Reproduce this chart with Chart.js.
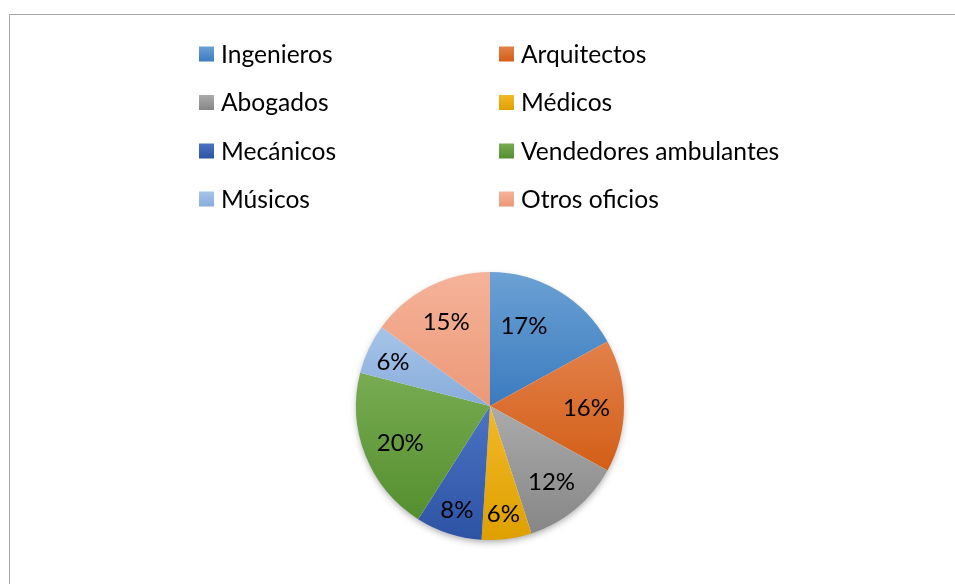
<!DOCTYPE html>
<html>
<head>
<meta charset="utf-8">
<script src="https://cdn.jsdelivr.net/npm/chart.js@4/dist/chart.umd.min.js"></script>
<style>
  html, body { margin: 0; padding: 0; background: #fff; overflow: hidden; }
  #frame {
    position: absolute; left: 9px; top: 14px; width: 1000px; height: 700px;
    border-left: 1px solid #a6a6a6; border-top: 1px solid #a6a6a6;
  }
  #wrap { position: absolute; left: 0; top: 0; width: 955px; height: 584px; }
</style>
</head>
<body>
<div id="frame"></div>
<div id="wrap"><canvas id="chart"></canvas></div>
<script>
// data
const labels = ["Ingenieros", "Arquitectos", "Abogados", "Médicos",
                "Mecánicos", "Vendedores ambulantes", "Músicos", "Otros oficios"];
const values = [17, 16, 12, 6, 8, 20, 6, 15];

// gradient colors, top -> bottom
const topColors = ["#6ba1d4", "#e2814b", "#ababab", "#f2b928",
                   "#4c72c2", "#78ab52", "#a5c4e8", "#f5b399"];
const bottomColors = ["#3b7bbf", "#d35e16", "#868686", "#dea000",
                      "#2d53a5", "#548f2f", "#88acdb", "#ec9877"];

const FONT = "Lato, 'Open Sans', sans-serif";

// vertical span of a slice, for the gradient
function sliceSpan(i, cx, cy, r) {
  const total = values.reduce((a, b) => a + b, 0);
  let cum = 0;
  for (let k = 0; k < i; k++) cum += values[k];
  const a0 = -Math.PI / 2 + 2 * Math.PI * cum / total;
  const a1 = a0 + 2 * Math.PI * values[i] / total;
  let ys = [cy, cy + r * Math.sin(a0), cy + r * Math.sin(a1)];
  [-Math.PI / 2, Math.PI / 2, 3 * Math.PI / 2].forEach(a => {
    if (a > a0 && a < a1) ys.push(cy + r * Math.sin(a));
  });
  return [Math.min(...ys), Math.max(...ys)];
}

function sliceFill(context) {
  const i = context.dataIndex;
  const chart = context.chart;
  const area = chart.chartArea;
  if (!area) return topColors[i];
  const cx = (area.left + area.right) / 2;
  const cy = (area.top + area.bottom) / 2;
  const r = Math.min(area.right - area.left, area.bottom - area.top) / 2;
  const span = sliceSpan(i, cx, cy, r);
  const g = chart.ctx.createLinearGradient(0, span[0], 0, span[1]);
  g.addColorStop(0, topColors[i]);
  g.addColorStop(1, bottomColors[i]);
  return g;
}

// soft shadow under the pie
const pieShadow = {
  id: 'pieShadow',
  beforeDatasetsDraw(chart) {
    const arc = chart.getDatasetMeta(0).data[0];
    if (!arc) return;
    const ctx = chart.ctx;
    ctx.save();
    ctx.shadowColor = "rgba(0,0,0,0.35)";
    ctx.shadowBlur = 7;
    ctx.shadowOffsetY = 3;
    ctx.fillStyle = "#fff";
    ctx.beginPath();
    ctx.arc(arc.x, arc.y, arc.outerRadius - 1, 0, Math.PI * 2);
    ctx.fill();
    ctx.restore();
  }
};

// percentage labels
const sliceLabels = {
  id: 'sliceLabels',
  afterDatasetsDraw(chart) {
    const ctx = chart.ctx;
    const total = values.reduce((a, b) => a + b, 0);
    ctx.save();
    ctx.font = "24px " + FONT;
    ctx.fillStyle = "#000";
    ctx.textAlign = "center";
    ctx.textBaseline = "middle";
    chart.getDatasetMeta(0).data.forEach((arc, i) => {
      let mid = (arc.startAngle + arc.endAngle) / 2;
      const share = values[i] / total;
      const frac = share < 0.1 ? 0.8 : 0.72;
      if (i === 0) mid -= 0.14; // first label sits a bit toward the top
      const x = arc.x + Math.cos(mid) * arc.outerRadius * (i === 0 ? 0.66 : frac);
      const y = arc.y + Math.sin(mid) * arc.outerRadius * (i === 0 ? 0.66 : frac);
      ctx.fillText(Math.round(share * 100) + "%", x, y + 2);
    });
    ctx.restore();
  }
};

// two-column legend
const gridLegend = {
  id: 'gridLegend',
  afterDraw(chart) {
    const ctx = chart.ctx;
    const colX = [199, 499];
    const rowY = [54, 102.5, 151, 199];
    const box = 15;
    ctx.save();
    ctx.font = "24.6px " + FONT;
    ctx.textBaseline = "middle";
    ctx.textAlign = "left";
    labels.forEach((lab, i) => {
      const x = colX[i % 2];
      const y = rowY[Math.floor(i / 2)];
      const g = ctx.createLinearGradient(0, y - box / 2, 0, y + box / 2);
      g.addColorStop(0, topColors[i]);
      g.addColorStop(1, bottomColors[i]);
      ctx.fillStyle = g;
      ctx.fillRect(x, y - box / 2, box, box);
      ctx.fillStyle = "#000";
      ctx.fillText(lab, x + 22, y + 1);
    });
    ctx.restore();
  }
};

new Chart(document.getElementById("chart"), {
  type: "pie",
  data: {
    labels: labels,
    datasets: [{
      data: values,
      backgroundColor: sliceFill,
      borderWidth: 0
    }]
  },
  options: {
    responsive: true,
    maintainAspectRatio: false,
    animation: false,
    layout: { padding: { top: 272, bottom: 44, left: 356, right: 331 } },
    plugins: {
      legend: { display: false },
      tooltip: { enabled: false }
    }
  },
  plugins: [pieShadow, sliceLabels, gridLegend]
});
</script>
</body>
</html>
